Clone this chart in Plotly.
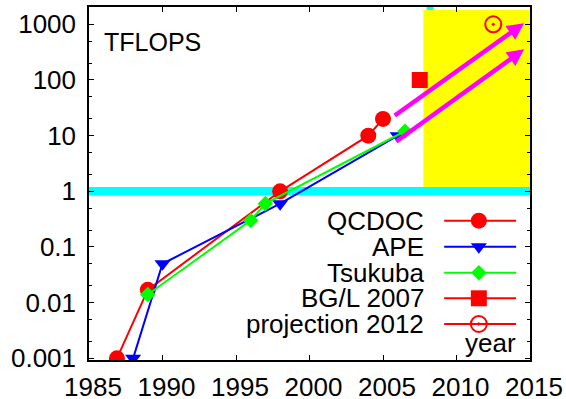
import numpy as np
import plotly.graph_objects as go

# ---- data ----
qcdoc_year = [1986.9, 1989.0, 1998.0, 2004.0, 2005.0]
qcdoc_tflops = [0.001, 0.017, 1.0, 10.0, 20.0]

ape_year = [1988.0, 1990.0, 1998.0, 2006.0]
ape_tflops = [0.001, 0.05, 0.6, 10.0]

tsukuba_year = [1989.0, 1996.0, 1997.0, 2006.5]
tsukuba_tflops = [0.014, 0.3, 0.6, 12.0]

bgl_year = [2007.5]
bgl_tflops = [100.0]

proj_year = [2012.5]
proj_tflops = [1000.0]

arrow_start_year = [2005.7, 2005.8]
arrow_start_tflops = [22.0, 7.5]
arrow_end_year = [2014.6, 2014.6]
arrow_end_tflops = [1050.0, 355.0]

yellow_years = [2007.75, 2015.0]
yellow_tflops = [1.0, 1800.0]
cyan_level = 1.0
cyan_notch_year = 2008.2

x_ticks = [1985, 1990, 1995, 2000, 2005, 2010, 2015]
y_ticks = [0.001, 0.01, 0.1, 1, 10, 100, 1000]
y_ticklabels = ["0.001", "0.01", "0.1", "1", "10", "100", "1000"]
y_minor = [m * 10.0 ** e for e in range(-3, 4) for m in (2, 5)]

legend_names = ["QCDOC", "APE", "Tsukuba", "BG/L 2007", "projection 2012"]

FONT = "Liberation Sans, Arial, Helvetica, sans-serif"
FS = 26
RED, BLUE, GREEN, MAG, CYAN, YEL = "#ff0000", "#0000ff", "#00ff00", "#ff00ff", "#00ffff", "#ffff00"

fig = go.Figure()

fig.add_trace(go.Scatter(x=qcdoc_year, y=qcdoc_tflops, mode="lines+markers",
                         line=dict(color=RED, width=2),
                         marker=dict(symbol="circle", size=16, color=RED)))
fig.add_trace(go.Scatter(x=ape_year, y=ape_tflops, mode="lines+markers",
                         line=dict(color=BLUE, width=2),
                         marker=dict(symbol="triangle-down", size=14, color=BLUE)))
fig.add_trace(go.Scatter(x=tsukuba_year, y=tsukuba_tflops, mode="lines+markers",
                         line=dict(color=GREEN, width=2),
                         marker=dict(symbol="diamond", size=12, color=GREEN)))
fig.add_trace(go.Scatter(x=bgl_year, y=bgl_tflops, mode="markers",
                         marker=dict(symbol="square", size=16, color=RED)))
fig.add_trace(go.Scatter(x=proj_year, y=proj_tflops, mode="markers",
                         marker=dict(symbol="circle-open-dot", size=16,
                                     color=RED, line=dict(color=RED, width=2))))

# ---- custom legend (text left of sample, as in gnuplot) on an overlay axis ----
leg_rows = [0.3946, 0.321, 0.2473, 0.1748, 0.102]
leg_styles = [
    dict(symbol="circle", size=16, color=RED, line=dict(color=RED, width=0)),
    dict(symbol="triangle-down", size=14, color=BLUE, line=dict(color=BLUE, width=0)),
    dict(symbol="diamond", size=12, color=GREEN, line=dict(color=GREEN, width=0)),
    dict(symbol="square", size=16, color=RED, line=dict(color=RED, width=0)),
    dict(symbol="circle-open-dot", size=16, color=RED, line=dict(color=RED, width=2)),
]
leg_line_colors = [RED, BLUE, GREEN, RED, RED]
lx0, lxm, lx1, ltext = 0.8054, 0.884, 0.9685, 0.7635
annotations = []
for name, ry, st, lc in zip(legend_names, leg_rows, leg_styles, leg_line_colors):
    fig.add_trace(go.Scatter(x=[lx0, lx1], y=[ry, ry], mode="lines",
                             line=dict(color=lc, width=2),
                             xaxis="x2", yaxis="y2", hoverinfo="skip"))
    fig.add_trace(go.Scatter(x=[lxm], y=[ry], mode="markers", marker=st,
                             xaxis="x2", yaxis="y2", hoverinfo="skip"))
    annotations.append(dict(x=ltext, y=ry, xref="paper", yref="paper", text=name,
                            showarrow=False, xanchor="right", yanchor="middle",
                            font=dict(family=FONT, size=FS, color="black")))

annotations.append(dict(x=0.9728, y=0.0473, xref="paper", yref="paper", text="year",
                        showarrow=False, xanchor="right", yanchor="middle",
                        font=dict(family=FONT, size=FS, color="black")))
annotations.append(dict(x=0.03, y=0.9008, xref="paper", yref="paper", text="TFLOPS",
                        showarrow=False, xanchor="left", yanchor="middle",
                        font=dict(family=FONT, size=FS - 1, color="black")))

# magenta projection arrows (annotation coords on log axis are log10)
for xs, ys, xe, ye in zip(arrow_start_year, arrow_start_tflops, arrow_end_year, arrow_end_tflops):
    annotations.append(dict(x=xe, y=np.log10(ye), ax=xs, ay=np.log10(ys),
                            xref="x", yref="y", axref="x", ayref="y",
                            text="", showarrow=True, arrowhead=2, arrowsize=0.75,
                            arrowwidth=4.5, arrowcolor=MAG, standoff=0, startstandoff=0))

shapes = [
    dict(type="line", xref="x", yref="y", layer="below",
         x0=cyan_notch_year, x1=cyan_notch_year,
         y0=cyan_level, y1=yellow_tflops[1] * 2,
         line=dict(color=CYAN, width=7)),
    dict(type="rect", xref="x", yref="y", layer="below",
         x0=yellow_years[0], x1=yellow_years[1],
         y0=yellow_tflops[0], y1=yellow_tflops[1],
         fillcolor=YEL, line=dict(width=0)),
    dict(type="line", xref="x", yref="y", layer="below",
         x0=x_ticks[0], x1=x_ticks[-1],
         y0=cyan_level, y1=cyan_level,
         line=dict(color=CYAN, width=8.5)),
]

fig.update_layout(
    width=566, height=399,
    margin=dict(l=89, r=36, t=7, b=39),
    paper_bgcolor="white", plot_bgcolor="white",
    showlegend=False,
    font=dict(family=FONT, size=FS, color="black"),
    xaxis=dict(range=[1985, 2015], tickvals=x_ticks, ticks="inside", ticklen=5,
               tickcolor="black", showline=True, linecolor="black", linewidth=1.5,
               mirror="ticks", showgrid=False, zeroline=False, ticklabelstandoff=3,
               ticklabelshift=4, automargin=False,
               tickfont=dict(family=FONT, size=FS)),
    yaxis=dict(type="log", range=[-3.03, 3.311], tickvals=y_ticks, ticktext=y_ticklabels,
               ticks="inside", ticklen=5, tickcolor="black", showline=True,
               linecolor="black", linewidth=1.5, mirror="ticks", showgrid=False,
               zeroline=False, ticklabelstandoff=6, automargin=False,
               minor=dict(tickvals=y_minor, ticks="inside", ticklen=3, tickcolor="black",
                          showgrid=False),
               tickfont=dict(family=FONT, size=FS)),
    xaxis2=dict(overlaying="x", range=[0, 1], visible=False, showgrid=False, automargin=False),
    yaxis2=dict(overlaying="y", range=[0, 1], visible=False, showgrid=False, automargin=False),
    shapes=shapes,
    annotations=annotations,
)

fig.write_html("out.html")
